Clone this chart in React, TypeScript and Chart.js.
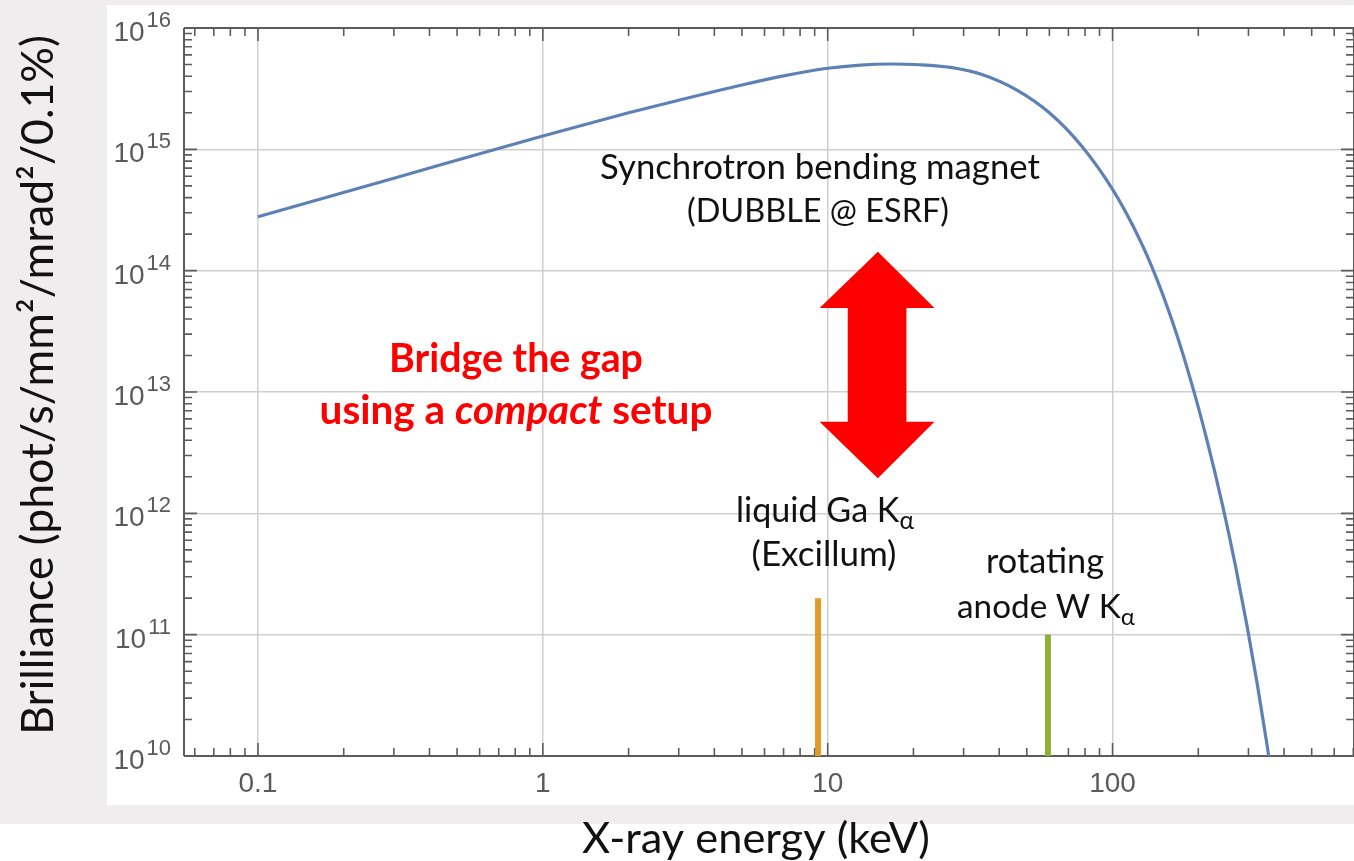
import React, { useEffect, useRef } from "react";
import { Chart, registerables } from "chart.js";
Chart.register(...registerables);

// ---- data ----
const energyKeV = [0.1, 0.3, 1, 2, 3, 5, 7, 10, 13, 16.6, 21, 27, 35, 46, 60, 78, 100, 118, 138, 163, 190, 215, 243, 270, 297, 322, 347, 360];
const brilliance = [
  2.78e14, 5.78e14, 1.29e15, 2.0e15, 2.54e15, 3.39e15, 4.03e15, 4.66e15, 4.95e15, 5.05e15, 4.98e15, 4.73e15,
  4.12e15, 3.09e15, 2.0e15, 1.06e15, 4.68e14, 2.33e14, 1.05e14, 3.68e13, 1.15e13, 3.92e12, 1.18e12, 3.71e11,
  1.16e11, 3.93e10, 1.32e10, 7.4e9,
];

const gaEnergy = [9.25, 9.25];
const gaBrilliance = [1e10, 2e11];
const wEnergy = [59.3, 59.3];
const wBrilliance = [1e10, 1e11];

const xTickValues = [0.1, 1, 10, 100];
const xTickLabels = ["0.1", "1", "10", "100"];
const yTickValues = [1e10, 1e11, 1e12, 1e13, 1e14, 1e15, 1e16];
const yTickExponents = ["10", "11", "12", "13", "14", "15", "16"];

const X_MIN = 0.055;
const X_MAX = 704;
const Y_MIN = 1e10;
const Y_MAX = 1e16;

const W = 1354;
const H = 861;
const FRAME = "#5c5c5c";
const TEXT_FONT = "Lato";

type Seg = { t: string; rel?: number; dy?: number; style?: string };
type Line = { segs: Seg[]; cx: number; base: number; w: number; weight: string; color: string };

function drawFitted(ctx: CanvasRenderingContext2D, ln: Line) {
  const fontFor = (s: Seg, size: number) =>
    `${s.style || "normal"} ${ln.weight} ${size * (s.rel || 1)}px ${TEXT_FONT}`;
  let natural = 0;
  for (const s of ln.segs) {
    ctx.font = fontFor(s, 100);
    natural += ctx.measureText(s.t).width;
  }
  const size = (100 * ln.w) / natural;
  const widths = ln.segs.map((s) => {
    ctx.font = fontFor(s, size);
    return ctx.measureText(s.t).width;
  });
  let x = ln.cx - widths.reduce((a, b) => a + b, 0) / 2;
  ctx.fillStyle = ln.color;
  ctx.textAlign = "left";
  ctx.textBaseline = "alphabetic";
  ln.segs.forEach((s, i) => {
    ctx.font = fontFor(s, size);
    ctx.fillText(s.t, x, ln.base + (s.dy || 0) * size);
    x += widths[i];
  });
}

const annotations: Line[] = [
  { segs: [{ t: "Synchrotron bending magnet" }], cx: 820, base: 179, w: 440, weight: "normal", color: "#111" },
  { segs: [{ t: "(DUBBLE @ ESRF)" }], cx: 818, base: 222, w: 262, weight: "normal", color: "#111" },
  { segs: [{ t: "Bridge the gap" }], cx: 516, base: 372, w: 254, weight: "bold", color: "#ff0000" },
  {
    segs: [{ t: "using a " }, { t: "compact", style: "italic" }, { t: " setup" }],
    cx: 516, base: 424, w: 393, weight: "bold", color: "#ff0000",
  },
  { segs: [{ t: "liquid Ga K" }, { t: "α", rel: 0.72, dy: 0.2 }], cx: 825, base: 522, w: 178, weight: "normal", color: "#111" },
  { segs: [{ t: "(Excillum)" }], cx: 824, base: 566, w: 145, weight: "normal", color: "#111" },
  { segs: [{ t: "rotating" }], cx: 1045, base: 573, w: 118, weight: "normal", color: "#111" },
  { segs: [{ t: "anode W K" }, { t: "α", rel: 0.72, dy: 0.2 }], cx: 1046, base: 618, w: 178, weight: "normal", color: "#111" },
  { segs: [{ t: "X-ray energy (keV)" }], cx: 756, base: 853, w: 348, weight: "normal", color: "#111" },
];

const yTitle: Line = {
  segs: [{ t: "Brilliance (phot/s/mm²/mrad²/0.1%)" }],
  cx: 0, base: 0, w: 700, weight: "normal", color: "#111",
};

const decorPlugin = {
  id: "decor",
  beforeDraw(chart: any) {
    const ctx = chart.ctx as CanvasRenderingContext2D;
    ctx.save();
    ctx.fillStyle = "#ffffff";
    ctx.fillRect(0, 0, W, H);
    ctx.fillStyle = "#efeded";
    ctx.fillRect(0, 0, W, 824);
    ctx.fillStyle = "#ffffff";
    ctx.fillRect(107, 5, W - 107, 800);
    ctx.restore();
  },
  beforeDatasetsDraw(chart: any) {
    const ctx = chart.ctx as CanvasRenderingContext2D;
    const { left, right, top, bottom } = chart.chartArea;
    const xs = chart.scales.x;
    const ys = chart.scales.y;
    ctx.save();
    ctx.strokeStyle = FRAME;
    ctx.lineWidth = 2;
    ctx.beginPath();
    ctx.moveTo(left, top);
    ctx.lineTo(right, top);
    ctx.moveTo(left, bottom);
    ctx.lineTo(right, bottom);
    ctx.moveTo(left, top);
    ctx.lineTo(left, bottom);
    ctx.moveTo(right, top);
    ctx.lineTo(right, bottom);
    ctx.stroke();
    ctx.lineWidth = 1.6;
    ctx.beginPath();
    for (let e = -2; e <= 3; e++) {
      for (let k = 1; k <= 9; k++) {
        const v = k * Math.pow(10, e);
        if (v < X_MIN || v > X_MAX) continue;
        const px = xs.getPixelForValue(v);
        const len = k === 1 ? 13 : 8;
        ctx.moveTo(px, bottom);
        ctx.lineTo(px, bottom - len);
        ctx.moveTo(px, top);
        ctx.lineTo(px, top + len);
      }
    }
    for (let e = 10; e <= 16; e++) {
      for (let k = 1; k <= 9; k++) {
        const v = k * Math.pow(10, e);
        if (v < Y_MIN || v > Y_MAX) continue;
        const py = ys.getPixelForValue(v);
        const len = k === 1 ? 13 : 8;
        ctx.moveTo(left, py);
        ctx.lineTo(left + len, py);
        ctx.moveTo(right, py);
        ctx.lineTo(right - len, py);
      }
    }
    ctx.stroke();
    ctx.restore();
  },
  afterDraw(chart: any) {
    const ctx = chart.ctx as CanvasRenderingContext2D;
    const { left, bottom } = chart.chartArea;
    const xs = chart.scales.x;
    const ys = chart.scales.y;
    ctx.save();
    ctx.fillStyle = "#5a5a5a";
    ctx.textBaseline = "alphabetic";
    ctx.textAlign = "center";
    ctx.font = "28px 'Liberation Sans'";
    xTickValues.forEach((v, i) => {
      ctx.fillText(xTickLabels[i], xs.getPixelForValue(v), bottom + 36);
    });
    yTickValues.forEach((v, i) => {
      const py = ys.getPixelForValue(v);
      ctx.font = "22px 'Liberation Sans'";
      const sw = ctx.measureText(yTickExponents[i]).width;
      const rightEdge = left - 13;
      ctx.textAlign = "left";
      ctx.fillText(yTickExponents[i], rightEdge - sw, py - 1);
      ctx.font = "28px 'Liberation Sans'";
      const bw = ctx.measureText("10").width;
      ctx.fillText("10", rightEdge - sw - bw - 2, py + 13);
    });

    const ax = (v: number) => xs.getPixelForValue(v);
    const ay = (v: number) => ys.getPixelForValue(v);
    const cxA = ax(15.0);
    const headL = ax(9.37), headR = ax(23.7);
    const shaftL = ax(11.76), shaftR = ax(18.9);
    const tipTop = ay(Math.pow(10, 14.156));
    const baseTop = ay(Math.pow(10, 13.692));
    const baseBot = ay(Math.pow(10, 12.754));
    const tipBot = ay(Math.pow(10, 12.29));
    ctx.fillStyle = "#ff0000";
    ctx.beginPath();
    ctx.moveTo(cxA, tipTop);
    ctx.lineTo(headR, baseTop);
    ctx.lineTo(shaftR, baseTop);
    ctx.lineTo(shaftR, baseBot);
    ctx.lineTo(headR, baseBot);
    ctx.lineTo(cxA, tipBot);
    ctx.lineTo(headL, baseBot);
    ctx.lineTo(shaftL, baseBot);
    ctx.lineTo(shaftL, baseTop);
    ctx.lineTo(headL, baseTop);
    ctx.closePath();
    ctx.fill();

    annotations.forEach((ln) => drawFitted(ctx, ln));

    ctx.translate(53, 385);
    ctx.rotate(-Math.PI / 2);
    drawFitted(ctx, yTitle);
    ctx.restore();
  },
};

export default function App() {
  const ref = useRef<HTMLCanvasElement | null>(null);
  useEffect(() => {
    document.body.style.margin = "0";
    const canvas = ref.current!;
    const chart = new Chart(canvas, {
      type: "line",
      data: {
        datasets: [
          {
            data: energyKeV.map((x, i) => ({ x, y: brilliance[i] })),
            borderColor: "#5e81b5",
            borderWidth: 3.2,
            pointRadius: 0,
            cubicInterpolationMode: "monotone",
            fill: false,
          },
          {
            data: gaEnergy.map((x, i) => ({ x, y: gaBrilliance[i] })),
            borderColor: "#e19c24",
            borderWidth: 6,
            pointRadius: 0,
            fill: false,
          },
          {
            data: wEnergy.map((x, i) => ({ x, y: wBrilliance[i] })),
            borderColor: "#8fb032",
            borderWidth: 6,
            pointRadius: 0,
            fill: false,
          },
        ],
      },
      options: {
        responsive: false,
        animation: false,
        devicePixelRatio: 1,
        layout: { padding: { left: 184, top: 28, right: 0, bottom: 105 } },
        plugins: { legend: { display: false }, tooltip: { enabled: false } },
        scales: {
          x: {
            type: "logarithmic",
            min: X_MIN,
            max: X_MAX,
            afterBuildTicks: (s: any) => {
              s.ticks = xTickValues.map((value) => ({ value }));
            },
            ticks: { display: false },
            grid: { color: "#cfcfcf", lineWidth: 1.5, drawTicks: false },
            border: { display: false },
          },
          y: {
            type: "logarithmic",
            min: Y_MIN,
            max: Y_MAX,
            afterBuildTicks: (s: any) => {
              s.ticks = yTickValues.map((value) => ({ value }));
            },
            ticks: { display: false },
            grid: { color: "#cfcfcf", lineWidth: 1.5, drawTicks: false },
            border: { display: false },
          },
        },
      } as any,
      plugins: [decorPlugin],
    });
    return () => chart.destroy();
  }, []);
  return (
    <div style={{ position: "fixed", left: 0, top: 0, width: W, height: H }}>
      <canvas ref={ref} width={W} height={H} style={{ width: W, height: H, display: "block" }} />
    </div>
  );
}
